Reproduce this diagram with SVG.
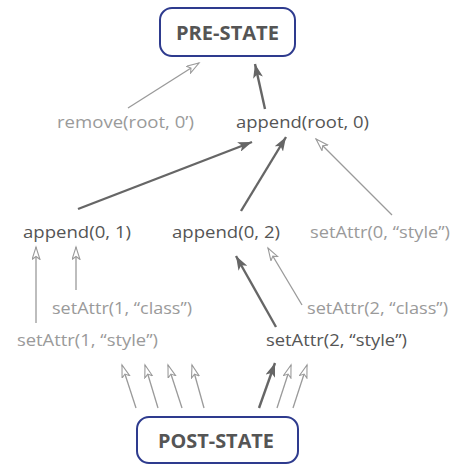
<svg xmlns="http://www.w3.org/2000/svg" width="455" height="464" viewBox="0 0 455 464">
<defs>
<style>
.t{font-family:"Open Sans","Noto Sans","Liberation Sans",sans-serif;font-size:17px;}
.d{fill:#555;}
.l{fill:#9a9a9a;}
.b{font-family:"Open Sans","Noto Sans","Liberation Sans",sans-serif;font-size:19px;font-weight:bold;fill:#555;}
.box{fill:#fff;stroke:#2e3b8e;stroke-width:2;}
.cl{stroke:#9a9a9a;stroke-width:1.3;fill:none;marker-end:url(#ah-l);}
.cd{stroke:#666;stroke-width:2.4;fill:none;marker-end:url(#ah-d);}
</style>
<marker id="ah-l" markerUnits="userSpaceOnUse" markerWidth="15" markerHeight="10" refX="13" refY="4.5" orient="auto">
<path d="M0.5,0.5 L13,4.5 L0.5,8.5 L3.5,4.5 z" fill="#fff" stroke="#9a9a9a" stroke-width="1.1"/>
</marker>
<marker id="ah-d" markerUnits="userSpaceOnUse" markerWidth="16" markerHeight="10" refX="14" refY="5" orient="auto">
<path d="M0,0 L14,5 L0,10 L3.5,5 z" fill="#666"/>
</marker>
</defs>

<g id="connectors">
<line class="cl" x1="128" y1="108" x2="199" y2="63"/>
<line class="cd" x1="265" y1="109" x2="255" y2="64"/>
<line class="cd" x1="78" y1="209" x2="252" y2="142"/>
<line class="cd" x1="241" y1="211" x2="286" y2="137"/>
<line class="cl" x1="392" y1="215" x2="316" y2="139"/>
<line class="cl" x1="36" y1="323" x2="36" y2="247"/>
<line class="cl" x1="76" y1="290" x2="76" y2="247"/>
<line class="cd" x1="276" y1="327" x2="236" y2="256"/>
<line class="cl" x1="302" y1="305" x2="268" y2="248"/>
<line class="cl" x1="136" y1="408" x2="122" y2="365"/>
<line class="cl" x1="158" y1="408" x2="145" y2="365"/>
<line class="cl" x1="182" y1="408" x2="168" y2="365"/>
<line class="cl" x1="204" y1="408" x2="192" y2="365"/>
<line class="cd" x1="259" y1="408" x2="275" y2="363"/>
<line class="cl" x1="277" y1="408" x2="291" y2="365"/>
<line class="cl" x1="293" y1="408" x2="307" y2="365"/>
</g>

<g id="pre-state">
<rect class="box" x="160" y="8" width="135" height="48" rx="12"/>
<text class="b" x="176" y="40" textLength="103" lengthAdjust="spacingAndGlyphs">PRE-STATE</text>
</g>
<g id="remove-root-0">
<text class="t l" x="57" y="128" textLength="137" lengthAdjust="spacingAndGlyphs">remove(root, 0’)</text>
</g>
<g id="append-root-0">
<text class="t d" x="236" y="128" textLength="133" lengthAdjust="spacingAndGlyphs">append(root, 0)</text>
</g>
<g id="append-0-1">
<text class="t d" x="23" y="238" textLength="108" lengthAdjust="spacingAndGlyphs">append(0, 1)</text>
</g>
<g id="append-0-2">
<text class="t d" x="172" y="238" textLength="108" lengthAdjust="spacingAndGlyphs">append(0, 2)</text>
</g>
<g id="setattr-0-style">
<text class="t l" x="310" y="238" textLength="140" lengthAdjust="spacingAndGlyphs">setAttr(0, “style”)</text>
</g>
<g id="setattr-1-class">
<text class="t l" x="52" y="314" textLength="140" lengthAdjust="spacingAndGlyphs">setAttr(1, “class”)</text>
</g>
<g id="setattr-2-class">
<text class="t l" x="307" y="314" textLength="141" lengthAdjust="spacingAndGlyphs">setAttr(2, “class”)</text>
</g>
<g id="setattr-1-style">
<text class="t l" x="17" y="346" textLength="141" lengthAdjust="spacingAndGlyphs">setAttr(1, “style”)</text>
</g>
<g id="setattr-2-style">
<text class="t d" x="266" y="346" textLength="141" lengthAdjust="spacingAndGlyphs">setAttr(2, “style”)</text>
</g>
<g id="post-state">
<rect class="box" x="137" y="417" width="161" height="46" rx="12"/>
<text class="b" x="158" y="448" textLength="116" lengthAdjust="spacingAndGlyphs">POST-STATE</text>
</g>
</svg>
